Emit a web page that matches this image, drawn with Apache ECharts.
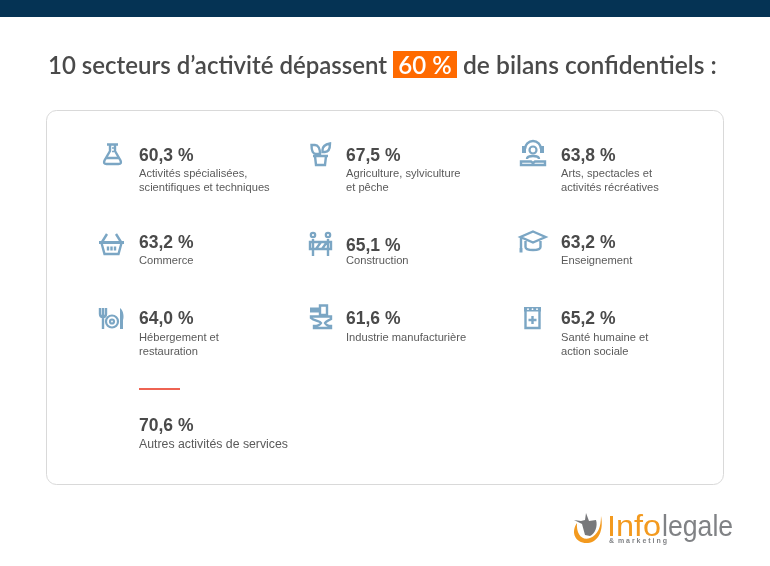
<!DOCTYPE html>
<html>
<head>
<meta charset="utf-8">
<style>html,body{margin:0;padding:0;background:#fff}#main{width:770px;height:566px}</style>
<script src="https://cdn.jsdelivr.net/npm/echarts@6/dist/echarts.min.js"></script>
</head>
<body>
<div id="main"></div>
<script>
var sectorValues = [60.3, 67.5, 63.8, 63.2, 65.1, 63.2, 64.0, 61.6, 65.2, 70.6];
var sectorLabels = [
    ['Activités spécialisées,', 'scientifiques et techniques'],
    ['Agriculture, sylviculture', 'et pêche'],
    ['Arts, spectacles et', 'activités récréatives'],
    ['Commerce'],
    ['Construction'],
    ['Enseignement'],
    ['Hébergement et', 'restauration'],
    ['Industrie manufacturière'],
    ['Santé humaine et', 'action sociale'],
    ['Autres activités de services']
];
var titleParts = ['10 secteurs d’activité dépassent', '60 %', 'de bilans confidentiels :'];

// layout, per tile
var textX = [139, 346, 561, 139, 346, 561, 139, 346, 561, 139];
var valueY = [156, 156, 156, 243, 246, 243, 319, 319, 319, 426];
var labelY = [174, 174, 174, 261, 261, 261, 338, 338, 338, 445];
var iconX = [103, 310, 520, 99, 309, 519, 99, 310, 523, null];
var iconY = [143, 142, 140, 233, 232, 230, 308, 304, 306, null];

var blue = '#7ba6c4';
// s: stroked paths, t: thin strokes, f: filled paths, c: circles, d: white dots
var icons = [
    { s: ['M4 1.500H15M7 1.500V8L1.500 17.500Q0 21 3.500 21H15.500Q19 21 17.500 17.500L12 8V1.500M3.500 15H15.500'], t: ['M9 5H12M9 8.500H11'] },
    { s: ['M1.500 3H5C8 3 10 6 10 12H6C3 12 1.500 9 1.500 3ZM20 1.500C20 7 18.500 10 15 10H12.500V8C12.500 4 15 2.500 20 1.500ZM3 14H18M5 14L6 23H15L16 14'] },
    { s: ['M5 9A8 8 0 0 1 21 9M7 19C7 15 19 15 19 19M1 21.500H11L13 23L15 21.500H25V25H1Z'], f: ['M2 6H6V13H2ZM20 6H24V13H20Z'], c: [[13, 10, 3.5]] },
    { s: ['M8 1L3 9M17 1L22 9M2.500 10L5.500 21H19.500L22.500 10M9 13.500V17.500M12.500 13.500V17.500M16 13.500V17.500'], f: ['M0 8H25V11H0Z'] },
    { s: ['M4 7V24M19 7V24M1 10H22V17H1ZM7 17L12 10M13 17L18 10'], c: [[4, 3, 2.2], [19, 3, 2.2]] },
    { s: ['M14 1.500L26.500 7L14 12.500L1.500 7ZM6.500 11V17C6.500 21 21.500 21 21.500 17V11M2 8V18'], f: ['M0.500 18H3.500V22.500H0.500Z'] },
    { s: ['M1 0V6Q1 9 4 9Q7 9 7 6V0M4 0V21'], t: ['M4 0V6'], f: ['M21 0C25 3 25 10 24 12V21H21Z'], c: [[13, 13.500, 6], [13, 13.500, 2]] },
    { s: ['M10 1.500H17V11H10ZM0 6.500H10M1 12.500H21V15C18 17 16 17 15 19C16 21 19 22 21 22V24H4V22C7 22 10 21 11 19C10 17 4 17 1 14Z'], f: ['M0 3.500H10V8.500H0Z'] },
    { s: ['M2.500 5V22H16.500V5M9.500 10V18M5.500 14H13.500'], f: ['M1 1H18V5.500H1Z'], d: [[5, 3.2], [9.5, 3.2], [14, 3.2]] }
];

function formatValue(v) {
    return v.toFixed(1).replace('.', ',') + ' %';
}

function iconParts(icon) {
    var parts = icon.s.map(function (d) {
        return { type: 'path', shape: { pathData: d }, style: { fill: 'none', stroke: blue, lineWidth: 2.4 } };
    });
    (icon.t || []).forEach(function (d) {
        parts.push({ type: 'path', shape: { pathData: d }, style: { fill: 'none', stroke: blue, lineWidth: 1.5 } });
    });
    (icon.f || []).forEach(function (d) {
        parts.push({ type: 'path', shape: { pathData: d }, style: { fill: blue } });
    });
    (icon.c || []).forEach(function (c) {
        parts.push({ type: 'circle', shape: { cx: c[0], cy: c[1], r: c[2] }, style: { fill: 'none', stroke: blue, lineWidth: 2.2 } });
    });
    (icon.d || []).forEach(function (c) {
        parts.push({ type: 'circle', shape: { cx: c[0], cy: c[1], r: 0.9 }, style: { fill: '#fff' } });
    });
    return parts;
}

function renderTile(params, api) {
    var i = params.dataIndex;
    var kids = [{
        type: 'text',
        style: {
            text: formatValue(api.value(0)), x: textX[i], y: valueY[i],
            fill: '#4a4a4a', font: 'bold 17.5px "Liberation Sans"', textVerticalAlign: 'middle'
        }
    }];
    sectorLabels[i].forEach(function (line, n) {
        kids.push({
            type: 'text',
            style: {
                text: line, x: textX[i], y: labelY[i] + n * 14,
                fill: '#5a5a5a', font: (i === 9 ? 12.3 : 11.15) + 'px "Liberation Sans"', textVerticalAlign: 'middle'
            }
        });
    });
    if (icons[i]) {
        kids.push({ type: 'group', x: iconX[i], y: iconY[i], children: iconParts(icons[i]) });
    }
    return { type: 'group', children: kids };
}

function renderLogo() {
    return {
        type: 'group',
        x: 573,
        y: 513,
        children: [
            { type: 'path', shape: { pathData: 'M4 10C-3 20 3 31 15 30C25 29 31 18 28 3C28 14 25 22 17 25C9 28 3 21 4 10Z' }, style: { fill: '#f39a1f' } },
            { type: 'path', shape: { pathData: 'M1 7L9 11L12 22L17 23C22 21 25 13 23 7L16 8L13 0L12 7L8 8Z' }, style: { fill: '#77787b' } }
        ]
    };
}

var option = {
    animation: false,
    backgroundColor: '#fff',
    graphic: [
        { type: 'rect', shape: { x: 0, y: 0, width: 770, height: 17 }, style: { fill: '#053354' } },
        { type: 'rect', shape: { x: 46.5, y: 110.5, width: 677, height: 374, r: 10 }, style: { fill: '#fff', stroke: '#d9d9d9', lineWidth: 1 } },
        { type: 'rect', shape: { x: 393, y: 51, width: 64, height: 27 }, style: { fill: '#ff6a00' } },
        { type: 'text', x: 48, y: 66, style: { text: titleParts[0], fill: '#4a4a4a', font: '600 24px Lato', textVerticalAlign: 'middle' } },
        { type: 'text', x: 425, y: 66, style: { text: titleParts[1], fill: '#fff', font: '600 24px Lato', textAlign: 'center', textVerticalAlign: 'middle' } },
        { type: 'text', x: 463, y: 66, style: { text: titleParts[2], fill: '#4a4a4a', font: '600 24.6px Lato', textVerticalAlign: 'middle' } },
        { type: 'rect', shape: { x: 139, y: 388, width: 41, height: 2 }, style: { fill: '#ee6352' } },
        // logo text
        { type: 'text', x: 607, y: 528, scaleX: 1.12, style: { text: 'Info', fill: '#f39a1f', font: '29px "Liberation Sans"', textVerticalAlign: 'middle' } },
        { type: 'text', x: 662, y: 528, scaleX: 0.92, style: { text: 'legale', fill: '#808285', font: '29px "Liberation Sans"', textVerticalAlign: 'middle' } },
        { type: 'text', x: 609, y: 541, style: { text: '&  m a r k e t i n g', fill: '#808285', font: 'bold 7px "Liberation Sans"', textVerticalAlign: 'middle' } }
    ],
    series: [{
        type: 'custom',
        coordinateSystem: 'none',
        silent: true,
        data: sectorValues.map(function (v) { return [v]; }),
        renderItem: renderTile,
        z: 5
    }, {
        type: 'custom',
        coordinateSystem: 'none',
        silent: true,
        data: [[0]],
        renderItem: renderLogo,
        z: 5
    }]
};

var chart = echarts.init(document.getElementById('main'));
chart.setOption(option);
</script>
</body>
</html>
